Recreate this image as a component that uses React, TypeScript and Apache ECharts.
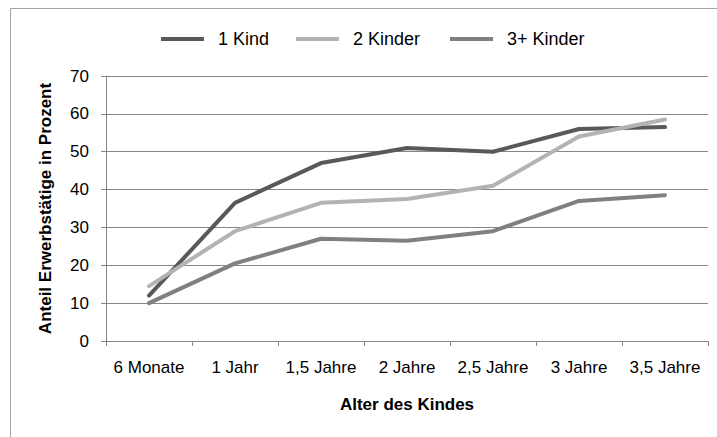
import React, { useEffect, useRef } from "react";
import * as echarts from "echarts";

const categories = ["6 Monate", "1 Jahr", "1,5 Jahre", "2 Jahre", "2,5 Jahre", "3 Jahre", "3,5 Jahre"];
const seriesNames = ["1 Kind", "2 Kinder", "3+ Kinder"];
const einKind = [12, 36.5, 47, 51, 50, 56, 56.5];
const zweiKinder = [14.5, 29, 36.5, 37.5, 41, 54, 58.5];
const dreiPlusKinder = [10, 20.5, 27, 26.5, 29, 37, 38.5];
const yTicks = [0, 10, 20, 30, 40, 50, 60, 70];
const colors = ["#595959", "#b3b3b3", "#808080"];
const legendLefts = [156, 291, 445];

export default function App() {
  const ref = useRef<HTMLDivElement>(null);
  useEffect(() => {
    if (!ref.current) return;
    const chart = echarts.init(ref.current, null, { renderer: "svg" });
    const font = "'Liberation Sans', Arial, sans-serif";
    const values = [einKind, zweiKinder, dreiPlusKinder];
    chart.setOption({
      animation: false,
      backgroundColor: "#ffffff",
      textStyle: { fontFamily: font },
      graphic: [
        {
          type: "rect",
          shape: { x: 10.5, y: 8.5, width: 720, height: 440 },
          style: { fill: "none", stroke: "#a6a6a6", lineWidth: 1 },
          silent: true,
        },
      ],
      legend: seriesNames.map((name, i) => ({
        top: 25,
        left: legendLefts[i],
        itemWidth: 43,
        itemHeight: 4,
        icon: "rect",
        data: [name],
        textStyle: { fontFamily: font, fontSize: 18, color: "#000", padding: [0, 0, 0, 9] },
      })),
      grid: { left: 106, right: 9, top: 76, bottom: 96 },
      xAxis: {
        type: "category",
        data: categories,
        boundaryGap: true,
        name: "Alter des Kindes",
        nameLocation: "middle",
        nameGap: 55,
        nameTextStyle: { fontFamily: font, fontSize: 17, fontWeight: "bold", color: "#000" },
        axisLine: { lineStyle: { color: "#868686", width: 1 } },
        axisTick: { show: true, length: 5, inside: false, lineStyle: { color: "#868686" } },
        axisLabel: { fontFamily: font, fontSize: 17, color: "#000", margin: 18, interval: 0 },
      },
      yAxis: {
        type: "value",
        min: yTicks[0],
        max: yTicks[yTicks.length - 1],
        interval: 10,
        name: "Anteil Erwerbstätige in Prozent",
        nameLocation: "middle",
        nameGap: 52,
        nameTextStyle: { fontFamily: font, fontSize: 17, fontWeight: "bold", color: "#000" },
        axisLine: { show: true, lineStyle: { color: "#868686", width: 1 } },
        axisTick: { show: true, length: 5, lineStyle: { color: "#868686" } },
        axisLabel: { fontFamily: font, fontSize: 17, color: "#000", margin: 17 },
        splitLine: { show: true, lineStyle: { color: "#868686", width: 1 } },
      },
      series: seriesNames.map((name, i) => ({
        name,
        type: "line",
        data: values[i],
        symbol: "none",
        color: colors[i],
        lineStyle: { color: colors[i], width: 4, cap: "round", join: "round" },
      })),
    });
    return () => chart.dispose();
  }, []);
  return (
    <div
      ref={ref}
      style={{ position: "fixed", left: 0, top: 0, width: 717, height: 437 }}
    />
  );
}
